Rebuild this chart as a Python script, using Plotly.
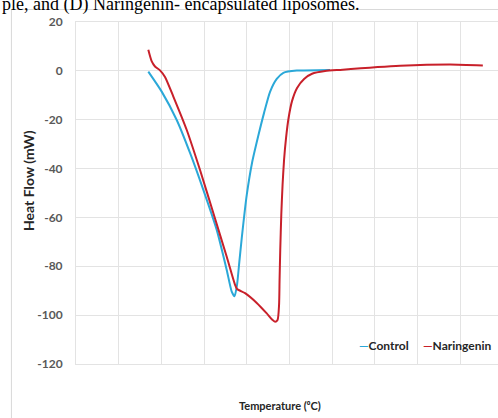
import plotly.graph_objects as go

# Data (x: temperature in arbitrary grid units, y: heat flow in mW)
control_T = [16.93, 20.07, 23.58, 26.70, 29.81, 32.95, 35.29, 36.46, 37.12, 37.70, 38.24,
             38.81, 39.98, 41.22, 42.62, 44.03, 45.43, 47.00, 48.55, 51.69, 59.48]
control_HF = [-0.3, -8.5, -20.1, -33.6, -48.7, -65.1, -81.5, -90.4, -92.3, -87.6, -78.2,
              -68.4, -50.8, -37.6, -27.0, -17.2, -8.6, -3.3, -0.8, 0.1, 0.4]

naringenin_T = [16.93, 17.68, 18.50, 19.67, 20.84, 22.79, 25.93, 29.04, 32.15, 35.29, 37.24,
                37.70, 39.58, 42.32, 44.66, 45.90, 46.60, 47.19, 47.54, 47.66, 47.82, 48.06,
                48.36, 48.71, 49.18, 49.77, 50.59, 51.76, 53.40, 55.27, 58.31, 61.83, 75.88,
                87.59, 95.25]
naringenin_HF = [8.6, 4.1, 1.8, 0.2, -2.5, -10.5, -24.2, -40.6, -58.2, -76.1, -87.6, -89.3,
                 -91.0, -95.0, -99.3, -101.8, -102.7, -102.0, -95.8, -85.6, -73.3, -59.0,
                 -46.7, -36.5, -27.4, -19.3, -12.3, -7.0, -3.3, -1.2, -0.1, 0.4, 2.05, 2.6,
                 2.2]

y_ticks = [20, 0, -20, -40, -60, -80, -100, -120]
y_tick_labels = ["20", "0", "-20", "-40", "-60", "-80", "-100", "-120"]

BLUE = "#2ba8d8"
RED = "#c8202a"
GRID = "#e3e3e3"

fig = go.Figure()
fig.add_trace(go.Scatter(x=control_T, y=control_HF, mode="lines", name="Control",
                         line=dict(color=BLUE, width=2, shape="spline", smoothing=0.6),
                         showlegend=False))
fig.add_trace(go.Scatter(x=naringenin_T, y=naringenin_HF, mode="lines", name="Naringenin",
                         line=dict(color=RED, width=2, shape="spline", smoothing=0.6),
                         showlegend=False))

fig.update_layout(
    width=498, height=418,
    margin=dict(l=76, r=0, t=22, b=54),
    paper_bgcolor="white", plot_bgcolor="white",
    xaxis=dict(range=[0, 98.8], dtick=10, tick0=0, showticklabels=False,
               showgrid=True, gridcolor=GRID, gridwidth=1, zeroline=False,
               showline=True, linecolor=GRID, linewidth=1, mirror=True, ticks=""),
    yaxis=dict(range=[-120, 20], tickvals=y_ticks, ticktext=y_tick_labels, showgrid=True,
               gridcolor=GRID, gridwidth=1, zeroline=False, showline=True, linecolor=GRID,
               linewidth=1, ticks="", ticklabelstandoff=10,
               tickfont=dict(family="Lato", size=12, color="#595959", weight="bold")),
    font=dict(family="Lato"),
)

# outer chart-area border (partially visible)
fig.add_shape(type="line", xref="paper", yref="paper", x0=-0.153, x1=1.1, y0=1.0365, y1=1.0365,
              line=dict(color="#d9d9d9", width=1))
fig.add_shape(type="line", xref="paper", yref="paper", x0=-0.153, x1=-0.153, y0=-0.2, y1=1.0365,
              line=dict(color="#d9d9d9", width=1))

# caption fragment at top
fig.add_annotation(text="ple, and (D) Naringenin- encapsulated liposomes.", xref="paper", yref="paper",
                   x=-0.18, y=1.016, xanchor="left", yanchor="bottom", showarrow=False,
                   font=dict(family="Liberation Serif", size=18, color="black"))

# axis titles
fig.add_annotation(text="Heat Flow (mW)", xref="paper", yref="paper", x=(28 - 76) / 422,
                   y=(364 - 181) / 342, textangle=-90, showarrow=False,
                   xanchor="center", yanchor="middle",
                   font=dict(family="Lato", size=14, color="#262626", weight="bold"))
fig.add_annotation(text="Temperature (⁰C)", xref="paper", yref="paper", x=(279.5 - 76) / 422,
                   y=(364 - 405) / 342, showarrow=False, xanchor="center", yanchor="middle",
                   font=dict(family="Lato", size=11, color="#262626", weight="bold"))

# legend
fig.add_annotation(text=f"<span style='color:{BLUE}'>—</span>Control", xref="paper", yref="paper",
                   x=(357 - 76) / 422, y=(364 - 345) / 342, xanchor="left", yanchor="middle",
                   showarrow=False, font=dict(family="Lato", size=12, color="#262626", weight="bold"))
fig.add_annotation(text=f"<span style='color:{RED}'>—</span>Naringenin", xref="paper", yref="paper",
                   x=(421 - 76) / 422, y=(364 - 345) / 342, xanchor="left", yanchor="middle",
                   showarrow=False, font=dict(family="Lato", size=12, color="#262626", weight="bold"))

fig.write_html("out.html", config={"displayModeBar": False},
               post_script="document.body.style.margin='0';document.body.style.overflow='hidden';")
